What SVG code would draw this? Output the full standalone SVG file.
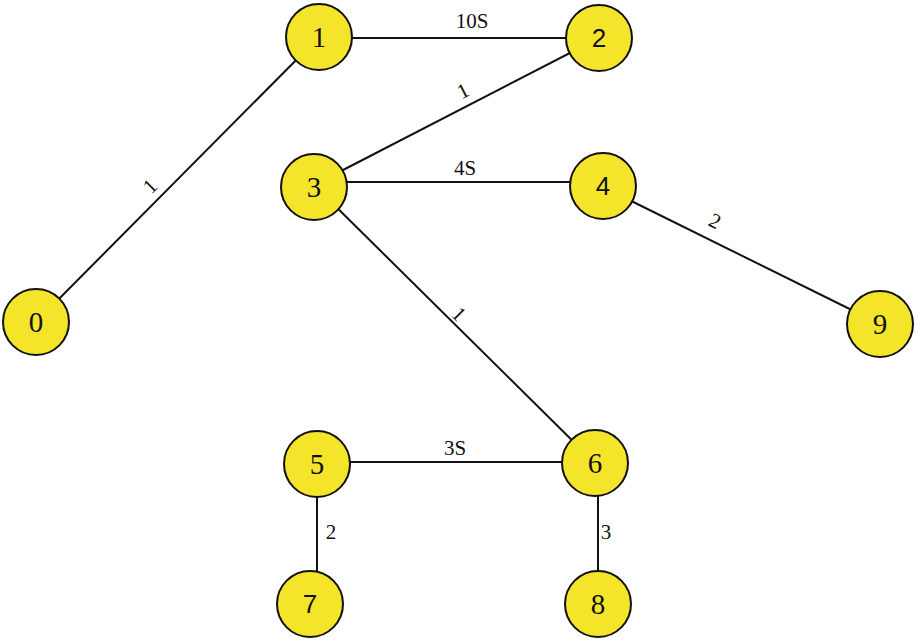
<svg xmlns="http://www.w3.org/2000/svg" width="916" height="640" viewBox="0 0 916 640">
<style>
.e{stroke:#111;stroke-width:2;fill:none}
.n circle{fill:#f4e52b;stroke:#111;stroke-width:2}
.t{font-family:"Liberation Serif",serif;font-size:29px;fill:#111;text-anchor:middle;dominant-baseline:central}
.ts{font-family:"Liberation Sans",sans-serif;font-size:26px;fill:#111;text-anchor:middle;dominant-baseline:central}
.l{font-family:"Liberation Serif",serif;font-size:21px;fill:#111;text-anchor:middle;dominant-baseline:central}
</style>
<rect width="916" height="640" fill="#fff"/>
<g id="edges">
<line class="e" x1="36" y1="322" x2="319" y2="37"/>
<line class="e" x1="319" y1="38" x2="599" y2="38"/>
<line class="e" x1="599" y1="38" x2="314" y2="185"/>
<line class="e" x1="314" y1="182" x2="603" y2="182"/>
<line class="e" x1="603" y1="187" x2="880" y2="324"/>
<line class="e" x1="314" y1="185" x2="595" y2="463"/>
<line class="e" x1="317" y1="462" x2="595" y2="462"/>
<line class="e" x1="317" y1="464" x2="317" y2="604"/>
<line class="e" x1="598" y1="463" x2="598" y2="604"/>
<text class="l" x="150" y="186" transform="rotate(-45 150 186)">1</text>
<text class="l" x="472" y="21">10S</text>
<text class="l" x="463" y="91" transform="rotate(-27 463 91)">1</text>
<text class="l" x="465" y="168">4S</text>
<text class="l" x="715" y="221" transform="rotate(26 715 221)">2</text>
<text class="l" x="459" y="314" transform="rotate(45 459 314)">1</text>
<text class="l" x="455" y="448">3S</text>
<text class="l" x="331" y="532">2</text>
<text class="l" x="606" y="532">3</text>
</g>
<g id="n0" class="n"><circle cx="36" cy="322" r="33"/><text class="t" x="36" y="322">0</text></g>
<g id="n1" class="n"><circle cx="319" cy="37" r="33"/><text class="t" x="319" y="37">1</text></g>
<g id="n2" class="n"><circle cx="599" cy="38" r="33"/><text class="ts" x="599" y="38">2</text></g>
<g id="n3" class="n"><circle cx="314" cy="187" r="33"/><text class="t" x="314" y="187">3</text></g>
<g id="n4" class="n"><circle cx="603" cy="186" r="33"/><text class="ts" x="603" y="186">4</text></g>
<g id="n9" class="n"><circle cx="880" cy="324" r="33"/><text class="t" x="880" y="324">9</text></g>
<g id="n5" class="n"><circle cx="317" cy="464" r="33"/><text class="t" x="317" y="464">5</text></g>
<g id="n6" class="n"><circle cx="595" cy="463" r="33"/><text class="t" x="595" y="463">6</text></g>
<g id="n7" class="n"><circle cx="310" cy="604" r="33"/><text class="ts" x="310" y="604">7</text></g>
<g id="n8" class="n"><circle cx="598" cy="604" r="33"/><text class="t" x="598" y="604">8</text></g>
</svg>
